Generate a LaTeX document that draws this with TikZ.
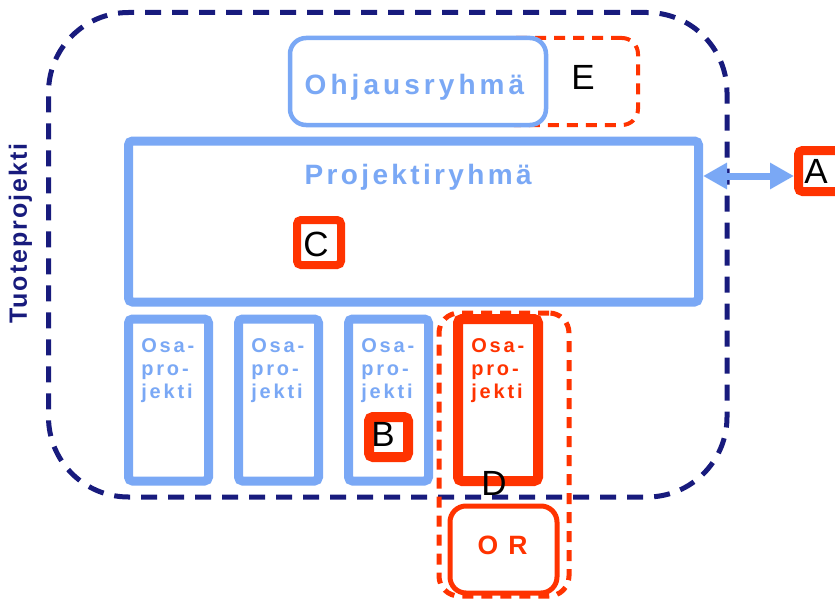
\documentclass[tikz,border=0pt]{standalone}
\usepackage{fontspec}
\setmainfont{Liberation Sans}
\newfontfamily\spacedohj[LetterSpace=14.5]{Liberation Sans}
\newfontfamily\spacedproj[LetterSpace=12]{Liberation Sans}
\newfontfamily\spacedsmall[LetterSpace=14]{Liberation Sans}
\newfontfamily\spacedor[LetterSpace=38]{Liberation Sans}
\newfontfamily\spacedtp[LetterSpace=8]{Liberation Sans}
\usetikzlibrary{arrows.meta,calc}
\definecolor{lblue}{RGB}{122,168,245}
\definecolor{ored}{RGB}{255,51,0}
\definecolor{navy}{RGB}{24,27,125}
\tikzset{
  bluebox/.style={draw=lblue, line width=9pt, fill=white, rounded corners=4pt, inner sep=0pt},
  redbox/.style={draw=ored, line width=10pt, fill=white, rounded corners=4pt, inner sep=0pt},
  reddash/.style={draw=ored, line width=5pt, dash pattern=on 11pt off 8pt, rounded corners=16pt, inner sep=0pt},
  letter/.style={font=\fontsize{35}{35}\selectfont, text=black, inner sep=0pt},
  titletext/.style={font=\bfseries\fontsize{28}{28}\selectfont, text=lblue, inner sep=0pt},
  osatext/.style={font=\spacedsmall\bfseries\fontsize{20}{23.3}\selectfont, align=left, inner sep=0pt},
  biarrow/.style={draw=lblue, line width=7pt, {Triangle[length=24pt,width=25pt]}-{Triangle[length=24pt,width=25pt]}},
}
\begin{document}
\begin{tikzpicture}[x=1pt,y=-1pt]
\useasboundingbox (0,0) rectangle (835,602);
% outer dashed
\node[draw=navy, line width=5pt, dash pattern=on 16pt off 11pt, rounded corners=80pt,
      minimum width=678.5pt, minimum height=484.5pt, inner sep=0pt] (outer) at (387.75,254.75) {};
\node[rotate=90, anchor=base, font=\spacedtp\bfseries\fontsize{25}{25}\selectfont, text=navy, inner sep=0pt]
      (tuote) at (27,233.5) {Tuoteprojekti};
% E dashed box
\node[reddash, line width=4pt, minimum width=140pt, minimum height=87pt] (ebox) at (568,81.5) {};
% Ohjausryhma
\node[draw=lblue, line width=4.5pt, fill=white, rounded corners=16pt, minimum width=256pt,
      minimum height=87pt, inner sep=0pt] (ohj) at (418,81.5) {};
\node[titletext, font=\spacedohj\bfseries\fontsize{28}{28}\selectfont, anchor=base] (ohjt) at (414.5,94) {Ohjausryhmä};
\node[letter] (E) at (583,77) {E};
% Projektiryhma
\node[bluebox, minimum width=570pt, minimum height=161pt] (proj) at (413.5,221.5) {};
\node[titletext, font=\spacedproj\bfseries\fontsize{28}{28}\selectfont, anchor=base] (projt) at (418.2,184) {Projektiryhmä};
\node[redbox, line width=8pt, minimum width=44pt, minimum height=45pt] (cbox) at (319,242.5) {};
\node[letter] (C) at (316,244) {C};
% A
\node[redbox, line width=9pt, minimum width=61pt, minimum height=41pt] (abox) at (829,171) {};
\node[letter] (A) at (816,171) {A};
\draw[biarrow] ([yshift=-5pt]abox.west -| proj.east) -- ([yshift=-5pt]abox.west);
% D dashed group
\node[reddash, minimum width=130pt, minimum height=283pt, rounded corners=20pt] (dbox) at (504,454.5) {};
% Osaprojekti boxes
\node[bluebox, minimum width=80pt, minimum height=162pt] (o1) at (168.5,400) {};
\node[bluebox, minimum width=80pt, minimum height=162pt] (o2) at (278.5,400) {};
\node[bluebox, minimum width=80pt, minimum height=162pt] (o3) at (388.5,400) {};
\node[redbox, minimum width=80pt, minimum height=162pt] (o4) at (498,400) {};
\node[osatext, text=lblue, anchor=north west] (t1) at (141.2,338) {Osa-\\pro-\\jekti};
\node[osatext, text=lblue, anchor=north west] (t2) at (251.2,338) {Osa-\\pro-\\jekti};
\node[osatext, text=lblue, anchor=north west] (t3) at (361.2,338) {Osa-\\pro-\\jekti};
\node[osatext, text=ored, anchor=north west] (t4) at (471.2,338) {Osa-\\pro-\\jekti};
% B
\node[redbox, minimum width=39pt, minimum height=40pt] (bbox) at (388.5,437) {};
\node[letter] (B) at (383,434.5) {B};
% D
\node[letter] (D) at (494,483) {D};
% OR
\node[draw=ored, line width=5pt, fill=white, rounded corners=16pt, minimum width=107pt,
      minimum height=87pt, inner sep=0pt] (or) at (503.5,549.5) {};
\node[font=\spacedor\bfseries\fontsize{26.5}{26.5}\selectfont, text=ored, inner sep=0pt, anchor=base]
      (ort) at (502.5,554) {OR};
\end{tikzpicture}
\end{document}
